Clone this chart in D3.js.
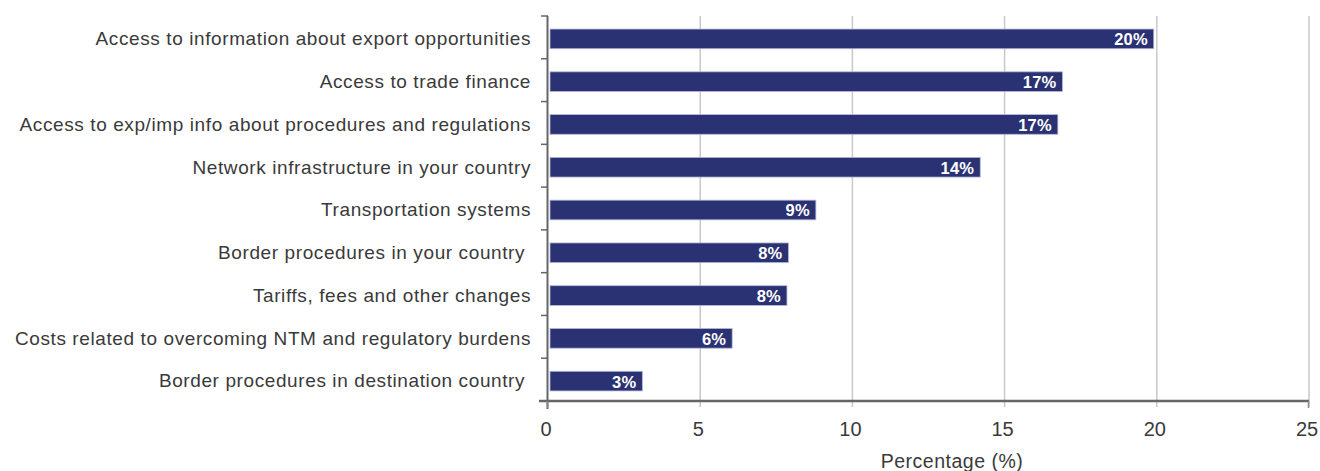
<!DOCTYPE html>
<html>
<head>
<meta charset="utf-8">
<script src="https://cdn.jsdelivr.net/npm/d3@7"></script>
<style>
  html, body { margin: 0; padding: 0; background: #fff; }
  svg { display: block; font-family: "Liberation Sans", Arial, Helvetica, sans-serif; }
</style>
</head>
<body>
<svg id="chart" width="1320" height="471"></svg>
<script>
// Obstacles reported, share of respondents (%)
const categories = [
  "Access to information about export opportunities",
  "Access to trade finance",
  "Access to exp/imp info about procedures and regulations",
  "Network infrastructure in your country",
  "Transportation systems",
  "Border procedures in your country ",
  "Tariffs, fees and other changes",
  "Costs related to overcoming NTM and regulatory burdens",
  "Border procedures in destination country "
];
const values = [19.9, 16.9, 16.75, 14.2, 8.8, 7.9, 7.85, 6.05, 3.1];
const xTicks = [0, 5, 10, 15, 20, 25];
const xTitle = "Percentage (%)";

const data = categories.map((c, i) => ({ label: c, value: values[i] }));

const svg = d3.select("#chart");
const plotLeft = 548, plotRight = 1309, plotTop = 16, plotBottom = 401;

const x = d3.scaleLinear().domain([0, 25]).range([plotLeft, plotRight]);
const y = d3.scaleBand().domain(categories).range([plotTop + 1.5, plotBottom + 1.5]).paddingInner(0.54).paddingOuter(0.27);

// vertical gridlines
svg.append("g")
  .selectAll("line")
  .data(xTicks.slice(1))
  .join("line")
  .attr("x1", d => x(d)).attr("x2", d => x(d))
  .attr("y1", plotTop).attr("y2", plotBottom + 6)
  .attr("stroke", "#c8c8c8").attr("stroke-width", 1.5);

// bars
svg.append("g")
  .selectAll("rect")
  .data(data)
  .join("rect")
  .attr("x", x(0) + 2)
  .attr("y", d => y(d.label))
  .attr("width", d => x(d.value) - x(0) - 2)
  .attr("height", y.bandwidth())
  .attr("fill", "#2b3274")
  .attr("stroke", "#b4b9d6")
  .attr("stroke-width", 0.8);

// value labels inside bar ends
svg.append("g")
  .selectAll("text")
  .data(data)
  .join("text")
  .attr("x", d => x(d.value) - 6)
  .attr("y", d => y(d.label) + y.bandwidth() / 2 + 0.5)
  .attr("dy", "0.36em")
  .attr("text-anchor", "end")
  .attr("fill", "#fff")
  .attr("font-weight", "bold")
  .attr("font-size", "16.5px")
  .attr("letter-spacing", "0.2px")
  .text(d => Math.round(d.value) + "%");

// y axis: line with ticks on band boundaries
const yAxis = svg.append("g");
yAxis.append("line")
  .attr("x1", plotLeft - 0.5).attr("x2", plotLeft - 0.5)
  .attr("y1", plotTop).attr("y2", plotBottom + 8)
  .attr("stroke", "#666").attr("stroke-width", 2);
const step = (plotBottom - plotTop) / categories.length;
yAxis.selectAll("line.tick")
  .data(d3.range(categories.length))
  .join("line")
  .attr("class", "tick")
  .attr("x1", plotLeft - 7).attr("x2", plotLeft)
  .attr("y1", i => plotTop + i * step).attr("y2", i => plotTop + i * step)
  .attr("stroke", "#666").attr("stroke-width", 1.5);

yAxis.selectAll("text")
  .data(data)
  .join("text")
  .attr("x", plotLeft - 17)
  .attr("y", d => y(d.label) + y.bandwidth() / 2 - 0.5)
  .attr("dy", "0.36em")
  .attr("text-anchor", "end")
  .attr("fill", "#3a3a3a")
  .attr("font-size", "19px")
  .attr("letter-spacing", "0.6px")
  .style("white-space", "pre")
  .text(d => d.label);

// x axis
const xAxis = svg.append("g");
xAxis.append("line")
  .attr("x1", plotLeft - 9).attr("x2", plotRight)
  .attr("y1", plotBottom).attr("y2", plotBottom)
  .attr("stroke", "#666").attr("stroke-width", 2.5);
xAxis.selectAll("line.tick")
  .data([0, 25])
  .join("line")
  .attr("class", "tick")
  .attr("x1", d => x(d) - 0.5).attr("x2", d => x(d) - 0.5)
  .attr("y1", plotBottom).attr("y2", plotBottom + 7)
  .attr("stroke", "#888").attr("stroke-width", 1.5);
xAxis.selectAll("text")
  .data(xTicks)
  .join("text")
  .attr("x", d => x(d) - 2)
  .attr("y", plotBottom + 35)
  .attr("text-anchor", "middle")
  .attr("fill", "#3a3a3a")
  .attr("font-size", "20px")
  .text(d => d);

svg.append("text")
  .attr("x", 952)
  .attr("y", 468)
  .attr("text-anchor", "middle")
  .attr("fill", "#3a3a3a")
  .attr("font-size", "19.5px")
  .attr("letter-spacing", "0.5px")
  .text(xTitle);
</script>
</body>
</html>
